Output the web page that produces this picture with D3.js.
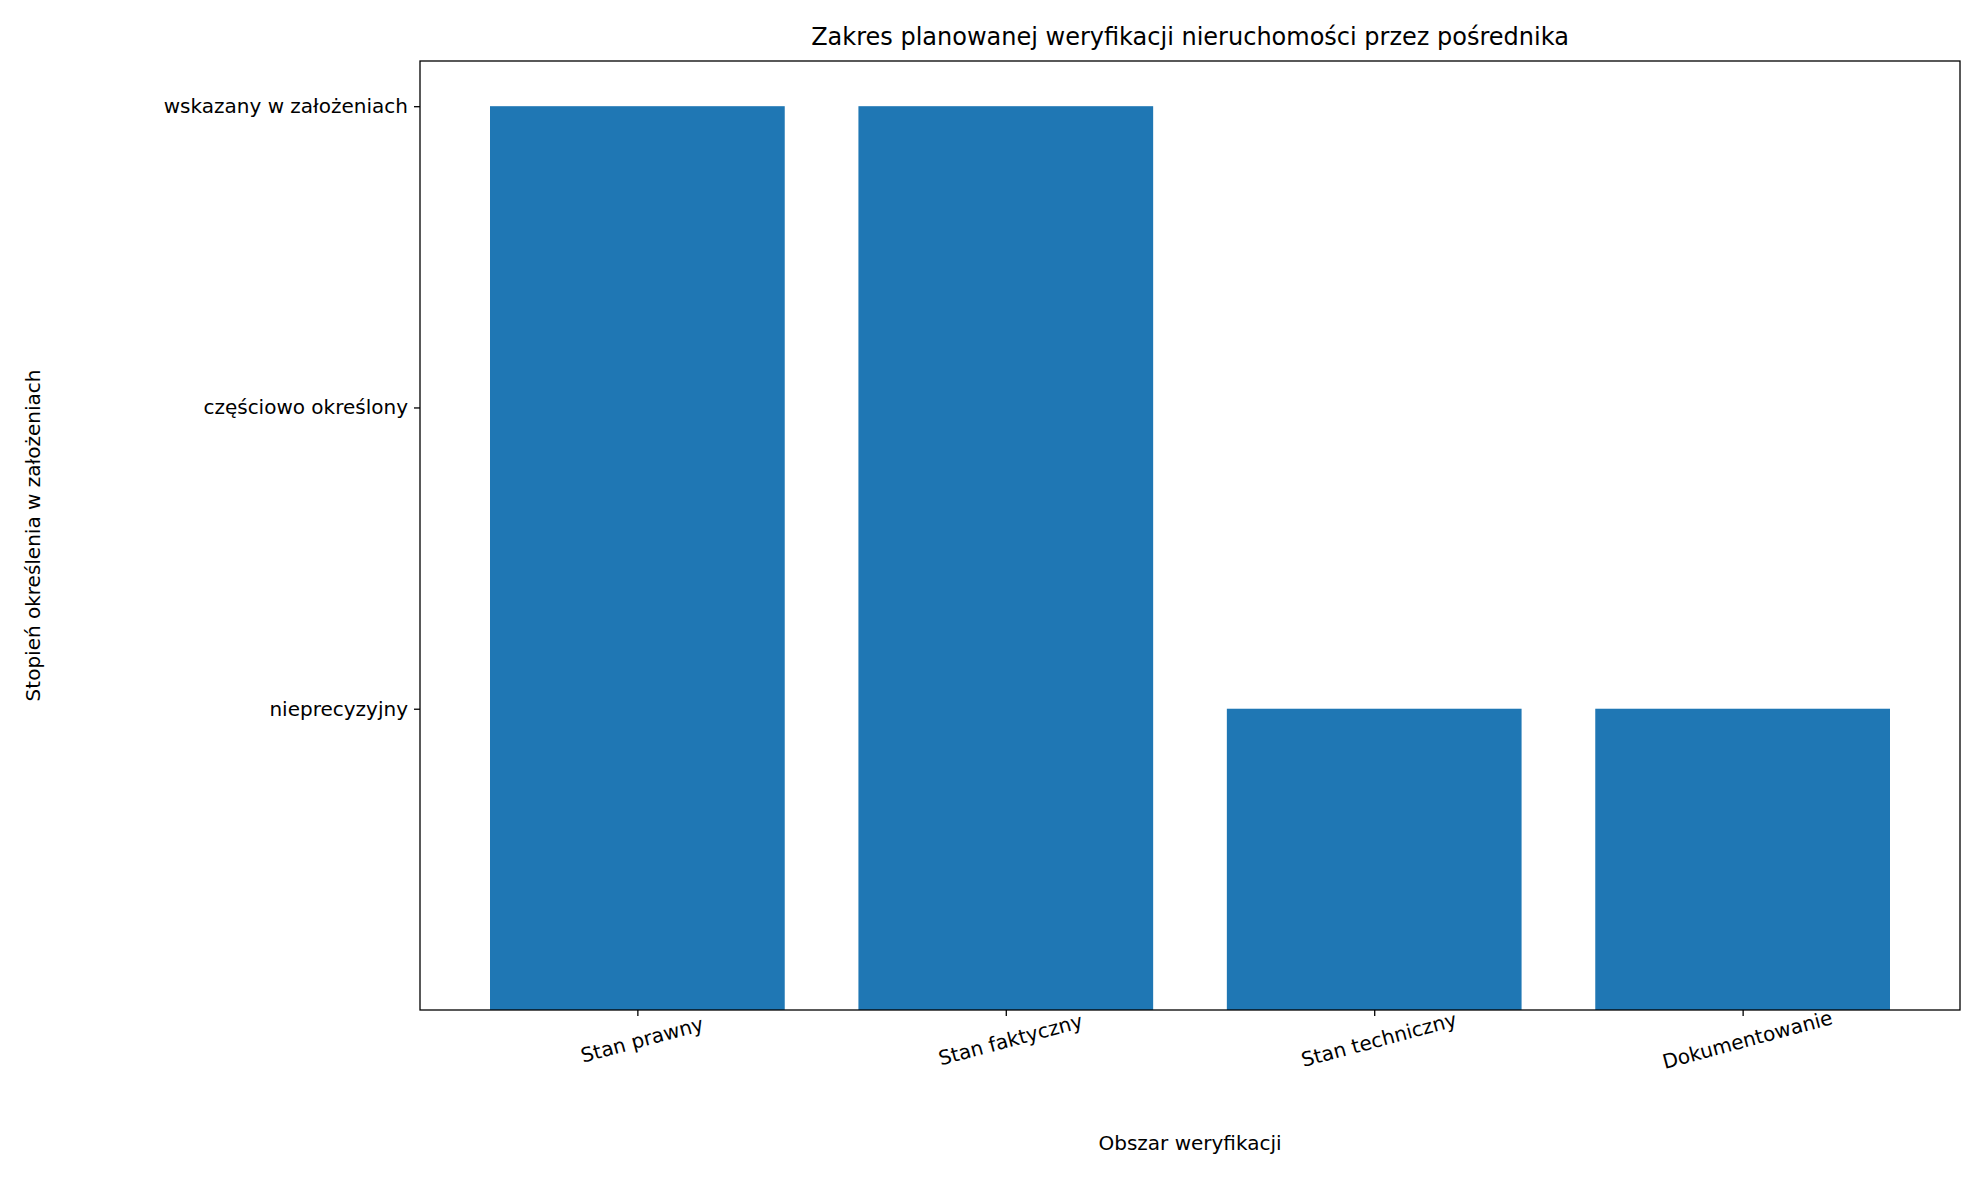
<!DOCTYPE html>
<html><head><meta charset="utf-8">
<script src="https://cdn.jsdelivr.net/npm/d3@7"></script>
<style>body{margin:0;background:#fff}text{font-family:"DejaVu Sans",sans-serif;fill:#000}</style>
</head><body><svg id="c" width="1979" height="1178"></svg>
<script>
const categories = ["Stan prawny","Stan faktyczny","Stan techniczny","Dokumentowanie"];
const values = [3,3,1,1];
const levelValues = [1,2,3];
const levelLabels = ["nieprecyzyjny","częściowo określony","wskazany w założeniach"];

const svg = d3.select("#c");
const L=420,R=1960,T=61,B=1010;
const x = d3.scaleLinear().domain([-0.59,3.59]).range([L,R]);
const y = d3.scaleLinear().domain([0,3.15]).range([B,T]);
const bw = x(0.4)-x(-0.4);
svg.selectAll("rect.bar").data(values).join("rect")
  .attr("x",(d,i)=>x(i)-bw/2).attr("width",bw)
  .attr("y",d=>y(d)).attr("height",d=>y(0)-y(d)).attr("fill","#1f77b4");
svg.append("rect").attr("x",L).attr("y",T).attr("width",R-L).attr("height",B-T)
  .attr("fill","none").attr("stroke","#000").attr("stroke-width",1.3);
const xa = svg.append("g").attr("transform",`translate(0,${B})`)
  .call(d3.axisBottom(x).tickValues([0,1,2,3]).tickFormat(i=>categories[i]).tickSize(6).tickSizeOuter(0));
xa.select(".domain").remove();
xa.selectAll("text").style("font-size","20px").attr("text-anchor","middle")
  .attr("transform","translate(0,14) rotate(-15)").attr("dy","0.71em").attr("y",9);
const ya = svg.append("g").attr("transform",`translate(${L},0)`)
  .call(d3.axisLeft(y).tickValues(levelValues).tickFormat((d,i)=>levelLabels[i]).tickSize(6).tickSizeOuter(0));
ya.select(".domain").remove();
ya.selectAll("text").style("font-size","20px").attr("x",-12);
svg.selectAll(".tick line").attr("stroke","#000").attr("stroke-width",1.3);
svg.append("text").attr("x",(L+R)/2).attr("y",45).attr("text-anchor","middle")
  .style("font-size","24px").text("Zakres planowanej weryfikacji nieruchomości przez pośrednika");
svg.append("text").attr("x",(L+R)/2).attr("y",1150).attr("text-anchor","middle")
  .style("font-size","20px").text("Obszar weryfikacji");
svg.append("text").attr("transform",`translate(40,${(T+B)/2}) rotate(-90)`).attr("text-anchor","middle")
  .style("font-size","20px").text("Stopień określenia w założeniach");
</script></body></html>
